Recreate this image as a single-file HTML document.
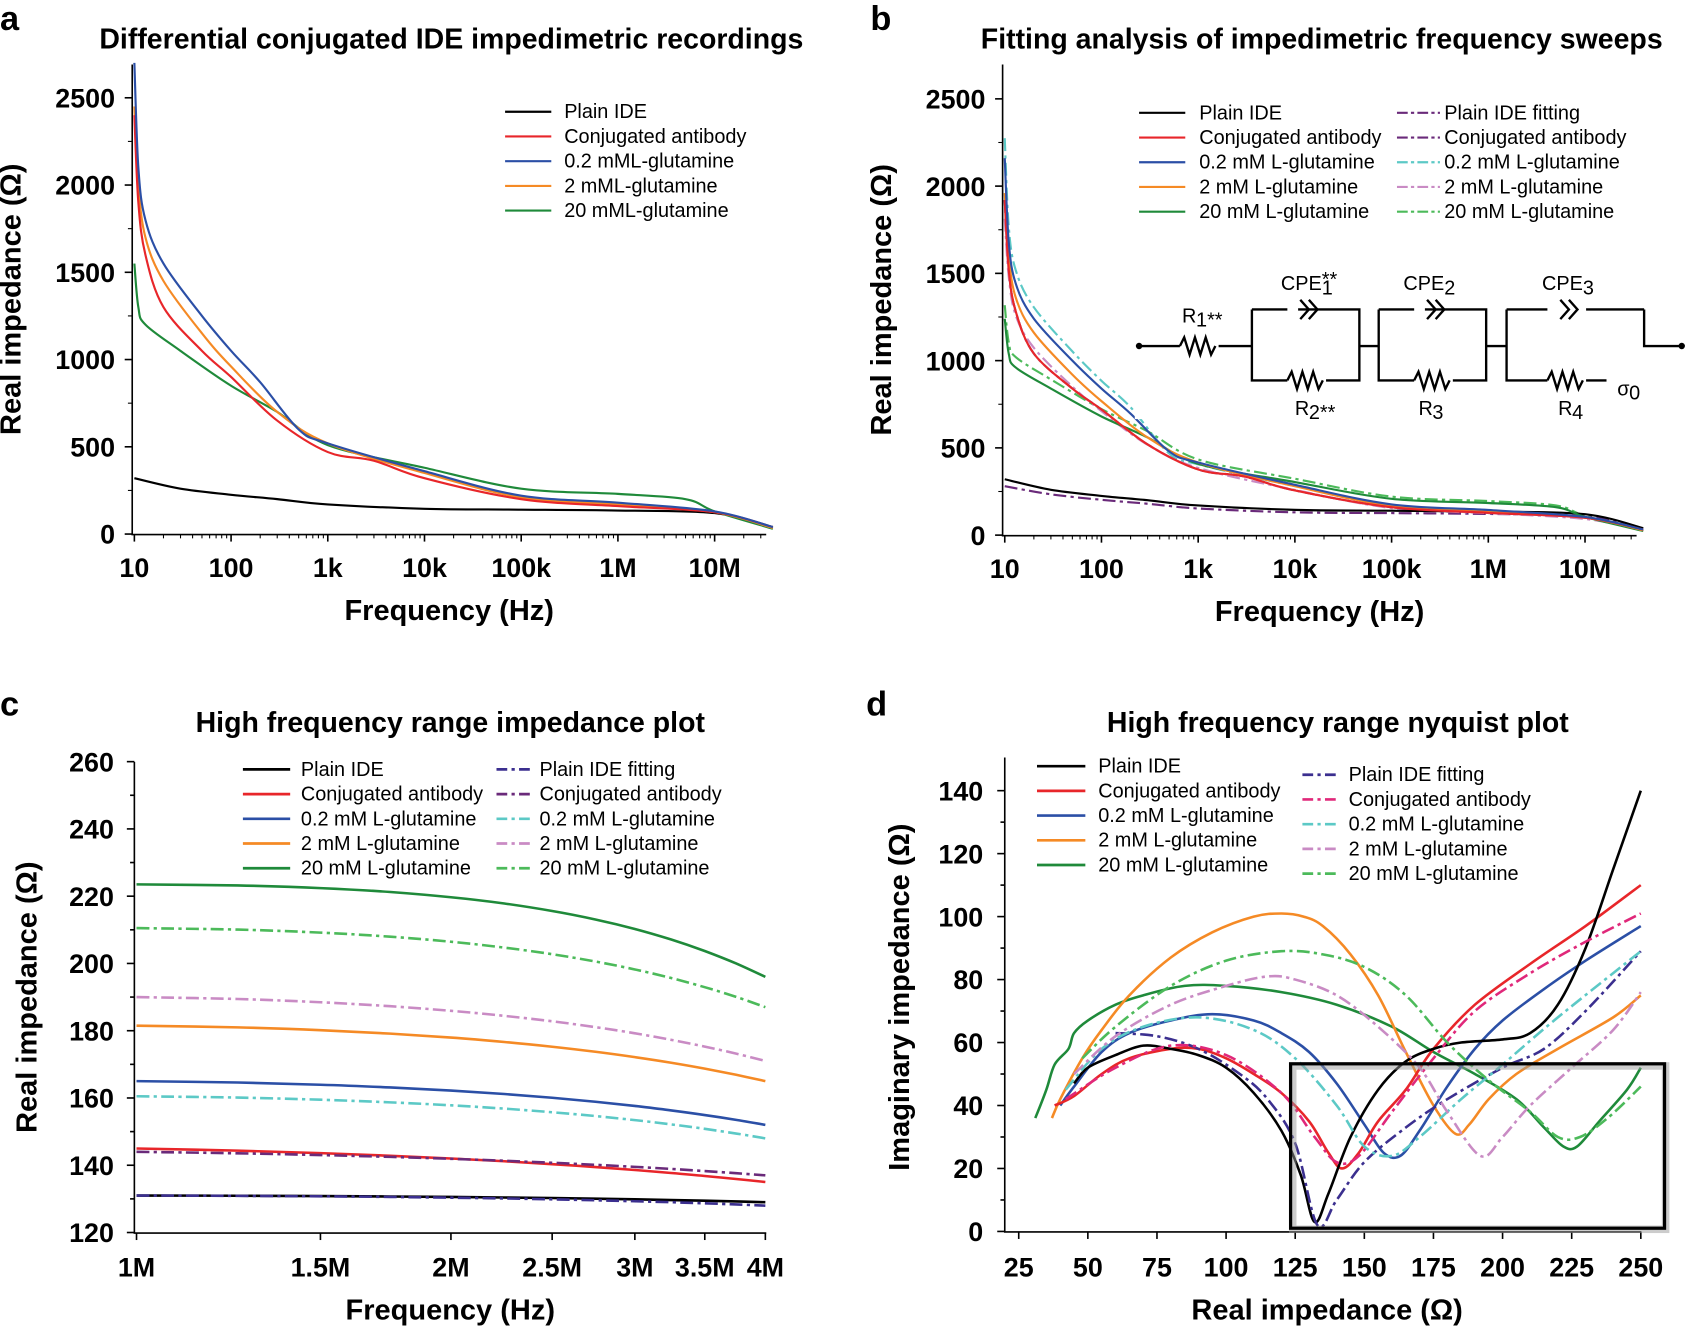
<!DOCTYPE html>
<html><head><meta charset="utf-8"><style>
html,body{margin:0;padding:0;background:#fff;}
svg{display:block;font-family:"Liberation Sans",Arial,sans-serif;}
.t{font-weight:bold;font-size:26.5px;}
.tk{font-weight:bold;font-size:25px;}
.lab{font-weight:bold;font-size:27px;}
.lg{font-size:18.5px;}
.pl{font-weight:bold;font-size:32px;}
</style></head><body>
<svg id="s" width="1685" height="1326" viewBox="0 0 1568 1234" xmlns="http://www.w3.org/2000/svg">
<rect width="1568" height="1234" fill="#fff"/>
<g id="g"></g>
</svg>
<script>
const NS="http://www.w3.org/2000/svg",G=document.getElementById('g');
function el(t,a,txt){const e=document.createElementNS(NS,t);for(const k in a)e.setAttribute(k,a[k]);if(txt!==undefined)e.textContent=txt;G.appendChild(e);return e;}
function smooth(p){let d="M"+p[0][0].toFixed(1)+","+p[0][1].toFixed(1);for(let i=0;i<p.length-1;i++){const p0=p[i-1]||p[i],p1=p[i],p2=p[i+1],p3=p[i+2]||p2;
const c1=[p1[0]+(p2[0]-p0[0])/6,p1[1]+(p2[1]-p0[1])/6],c2=[p2[0]-(p3[0]-p1[0])/6,p2[1]-(p3[1]-p1[1])/6];
d+=" C"+c1.map(v=>v.toFixed(1))+" "+c2.map(v=>v.toFixed(1))+" "+p2.map(v=>v.toFixed(1));}return d;}
function curve(pts,fx,fy,col,dash,w){el('path',{d:smooth(pts.map(q=>[fx(q[0]),fy(q[1])])),fill:'none',stroke:col,'stroke-width':w||2,'stroke-dasharray':dash?'12,4,3,4':'none'});}
const C={k:'#000',r:'#e8262a',b:'#2b4fa6',o:'#f58a25',g:'#1f8a3a',cy:'#5cc9c6',li:'#c98bc4',gd:'#4cba5a',pu:'#6a2a7a',pb:'#3b2f8f',rp:'#e0287a'};
function axes(x0,x1,y0,y1){el('path',{d:`M${x0},${y0} V${y1} H${x1}`,fill:'none',stroke:'#000','stroke-width':1.5});}
function text(x,y,s,cls,anchor,extra){const a=Object.assign({x:x,y:y,class:cls,'text-anchor':anchor||'start'},extra||{});return el('text',a,s);}
const dataA={
k:[[10,320],[30,260],[100,225],[300,200],[1e3,170],[1e4,145],[1e5,140],[1e6,135],[1e7,120],[4e7,40]],
r:[[10,2400],[11,1900],[13,1600],[20,1300],[50,1050],[100,900],[300,650],[1e3,470],[3e3,420],[1e4,320],[1e5,200],[1e6,160],[1e7,125],[4e7,40]],
b:[[10,2700],[11,2100],[13,1800],[20,1550],[50,1250],[100,1050],[200,870],[500,600],[1e3,520],[1e4,360],[1e5,220],[1e6,180],[1e7,130],[4e7,40]],
o:[[10,2450],[11,2000],[13,1700],[20,1450],[50,1150],[100,960],[300,700],[1e3,520],[1e4,350],[1e5,210],[1e6,170],[1e7,125],[4e7,35]],
g:[[10,1550],[11,1300],[13,1200],[30,1050],[100,850],[300,700],[1e3,510],[1e4,380],[1e5,260],[1e6,230],[5e6,200],[1e7,130],[4e7,30]]};
function panelAB(ox,y0,title,letter){
 const fx=f=>ox+2+90*Math.log10(f/10), fy=v=>y0-v*0.1624;
 axes(ox,ox+590,60,y0+0.5);
 ['10','100','1k','10k','100k','1M','10M'].forEach((s,i)=>{const x=ox+2+90*i;el('line',{x1:x,x2:x,y1:y0,y2:y0+7,stroke:'#000','stroke-width':1.5});text(x,y0+40,s,'tk','middle');
  for(let m=2;m<10;m++){const xm=x+90*Math.log10(m);if(xm<ox+590)el('line',{x1:xm,x2:xm,y1:y0,y2:y0+4,stroke:'#000'});}});
 [0,500,1000,1500,2000,2500].forEach(v=>{const y=fy(v);el('line',{x1:ox,x2:ox-7,y1:y,y2:y,stroke:'#000','stroke-width':1.5});text(ox-16,y+9,String(v),'tk','end');
  const ym=fy(v+250);if(v<2500)el('line',{x1:ox,x2:ox-4,y1:ym,y2:ym,stroke:'#000'});});
 text(ox+295,y0+80,'Frequency (Hz)','lab','middle');
 const yc=(60+y0)/2;text(0,0,'Real impedance (Ω)','lab','middle',{transform:`translate(${ox-104},${yc}) rotate(-90)`});
 text(ox+297,45,title,'t','middle');text(ox-123,28,letter,'pl');
 return [fx,fy];
}
let [fx,fy]=panelAB(123,497,'Differential conjugated IDE impedimetric recordings','a');
['k','g','o','r','b'].forEach(k=>curve(dataA[k],fx,fy,C[k]));
[['Plain IDE','k'],['Conjugated antibody','r'],['0.2 mML-glutamine','b'],['2 mML-glutamine','o'],['20 mML-glutamine','g']].forEach((l,i)=>{const y=104+i*23;el('line',{x1:470,x2:513,y1:y,y2:y,stroke:C[l[1]],'stroke-width':2});text(525,y+6,l[0],'lg');});
[fx,fy]=panelAB(933,498,'Fitting analysis of impedimetric frequency sweeps','b');
const sh=(arr,s)=>arr.map(p=>[p[0],p[1]*s]);
curve(sh(dataA.k,0.9).map((p,i)=>i==0?[10,280]:p),fx,fy,C.pu,true);
curve(sh(dataA.r,0.8),fx,fy,C.pu,true);
curve(sh(dataA.b,0.78).map(p=>[p[0],p[1]*(p[0]<300?1.08:1)]),fx,fy,C.cy,true);
curve(sh(dataA.o,0.74),fx,fy,C.li,true);
curve(sh(dataA.g,0.85),fx,fy,C.gd,true);
['k','g','o','r','b'].forEach(k=>curve(k=='k'?dataA.k:sh(dataA[k],0.8),fx,fy,C[k]));
el('rect',{x:1056,y:240,width:490,height:150,fill:'#fff'});
[['Plain IDE','k'],['Conjugated antibody','r'],['0.2 mM L-glutamine','b'],['2 mM L-glutamine','o'],['20 mM L-glutamine','g']].forEach((l,i)=>{const y=105+i*23;el('line',{x1:1060,x2:1103,y1:y,y2:y,stroke:C[l[1]],'stroke-width':2});text(1116,y+6,l[0],'lg');});
[['Plain IDE fitting','pu'],['Conjugated antibody','pu'],['0.2 mM L-glutamine','cy'],['2 mM L-glutamine','li'],['20 mM L-glutamine','gd']].forEach((l,i)=>{const y=105+i*23;el('line',{x1:1300,x2:1340,y1:y,y2:y,stroke:C[l[1]],'stroke-width':2,'stroke-dasharray':'10,3,3,3'});text(1344,y+6,l[0],'lg');});
const cw={fill:'none',stroke:'#000','stroke-width':2.2};
function res(x,y){el('path',Object.assign({d:`M${x},${y} l4,-8 l5,16 l5,-16 l5,16 l5,-16 l5,16 l4,-8`},cw));}
function cpe(x,y){el('path',Object.assign({d:`M${x-4},${y-9} l8,9 l-8,9 M${x+4},${y-9} l8,9 l-8,9`},cw));}
el('path',Object.assign({d:'M1060,322 H1098 M1134,322 H1165 M1165,288 V354 H1198 M1234,354 H1265 V288 H1234 M1198,288 H1165 M1265,322 H1283 M1283,288 V354 H1316 M1352,354 H1383 V288 H1352 M1316,288 H1283 M1383,322 H1402 M1402,288 V354 H1440 M1476,354 H1495 M1530,288 V322 H1565 M1440,288 H1402 M1476,288 H1530 M1208,288 H1234 M1326,288 H1352'},cw));
res(1098,322);res(1198,354);res(1316,354);res(1440,354);
cpe(1214,288);cpe(1332,288);cpe(1456,288);
el('circle',{cx:1060,cy:322,r:3});el('circle',{cx:1565,cy:322,r:3});
text(1100,300,'R','lg');text(1113,304,'1**','lg',null,{'font-size':9});
text(1192,270,'CPE','lg');text(1230,266,'**','lg',null,{'font-size':9});text(1230,274,'1','lg',null,{'font-size':11});
text(1306,270,'CPE','lg');text(1344,274,'2','lg',null,{'font-size':11});
text(1435,270,'CPE','lg');text(1473,274,'3','lg',null,{'font-size':11});
text(1205,386,'R','lg');text(1218,390,'2**','lg',null,{'font-size':9});
text(1320,386,'R','lg');text(1333,390,'3','lg',null,{'font-size':11});
text(1450,386,'R','lg');text(1463,390,'4','lg',null,{'font-size':11});
text(1505,368,'σ','lg');text(1516,372,'0','lg',null,{'font-size':11});
{const fx=f=>127+972*Math.log10(f),fy=v=>1147-(v-120)*3.13;
axes(125,713,709,1147.5);
[['1M',1],['1.5M',1.5],['2M',2],['2.5M',2.5],['3M',3],['3.5M',3.5],['4M',4]].forEach(t=>{const x=fx(t[1]);el('line',{x1:x,x2:x,y1:1147,y2:1154,stroke:'#000','stroke-width':1.5});text(x,1188,t[0],'tk','middle');});
for(let v=120;v<=260;v+=10){const y=fy(v);el('line',{x1:125,x2:v%20?121:118,y1:y,y2:y,stroke:'#000','stroke-width':1.5});if(v%20==0)text(106,y+9,String(v),'tk','end');}
text(419,1228,'Frequency (Hz)','lab','middle');
text(0,0,'Real impedance (Ω)','lab','middle',{transform:`translate(34,928) rotate(-90)`});
text(419,681,'High frequency range impedance plot','t','middle');text(0,666,'c','pl');
function ln(a,b,col,d,p){const pts=[];for(let i=0;i<=12;i++){const t=i/12;const f=1+3*t;pts.push([f,a-(a-b)*Math.pow(t,p||1.4)]);}curve(pts,fx,fy,col,d,2.4);}
ln(131,129,C.k);ln(131,128,C.pb,true);ln(145,135,C.r,false,1.1);ln(144,137,C.pu,true,1.1);
ln(165,152,C.b);ln(160.5,148,C.cy,true);ln(181.5,165,C.o);ln(190,171,C.li,true);ln(223.5,196,C.g,false,1.8);ln(210.5,187,C.gd,true,1.6);
[['Plain IDE','k'],['Conjugated antibody','r'],['0.2 mM L-glutamine','b'],['2 mM L-glutamine','o'],['20 mM L-glutamine','g']].forEach((l,i)=>{const y=716+i*23;el('line',{x1:226,x2:270,y1:y,y2:y,stroke:C[l[1]],'stroke-width':2.5});text(280,y+6,l[0],'lg');});
[['Plain IDE fitting','pb'],['Conjugated antibody','pu'],['0.2 mM L-glutamine','cy'],['2 mM L-glutamine','li'],['20 mM L-glutamine','gd']].forEach((l,i)=>{const y=716+i*23;el('line',{x1:462,x2:494,y1:y,y2:y,stroke:C[l[1]],'stroke-width':2.5,'stroke-dasharray':'10,4,3,4'});text(502,y+6,l[0],'lg');});
}
{const fx=v=>948+(v-25)*2.573,fy=v=>1146-v*2.93;
axes(935,1527,705,1146.5);
for(let v=25;v<=250;v+=25){const x=fx(v);el('line',{x1:x,x2:x,y1:1146,y2:1153,stroke:'#000','stroke-width':1.5});text(x,1188,String(v),'tk','middle');}
for(let v=0;v<=140;v+=10){const y=fy(v);el('line',{x1:935,x2:v%20?931:928,y1:y,y2:y,stroke:'#000','stroke-width':1.5});if(v%20==0)text(915,y+9,String(v),'tk','end');}
text(1235,1228,'Real impedance (Ω)','lab','middle');
text(0,0,'Imaginary impedance (Ω)','lab','middle',{transform:`translate(846,928) rotate(-90)`});
text(1245,681,'High frequency range nyquist plot','t','middle');text(806,666,'d','pl');
const D={
k:[[45,47],[50,52],[60,56],[70,59],[80,58],[90,56],[100,52],[110,44],[120,32],[127,18],[132,3],[137,12],[145,30],[155,45],[165,54],[175,58],[185,60],[200,61],[210,63],[220,72],[230,90],[240,115],[250,140]],
r:[[38,40],[45,43],[55,50],[65,55],[80,58],[90,58],[100,55],[110,50],[120,44],[130,35],[137,25],[142,20],[148,25],[155,35],[165,45],[175,58],[190,72],[210,85],[230,97],[250,110]],
b:[[40,40],[45,46],[55,57],[65,63],[80,67],[95,69],[110,67],[120,63],[130,57],[140,47],[150,34],[157,25],[163,24],[170,32],[180,46],[190,58],[200,67],[215,77],[230,86],[250,97]],
o:[[37,36],[40,42],[48,55],[55,64],[65,75],[80,87],[95,95],[110,100],[120,101],[128,100],[135,97],[145,88],[155,75],[165,57],[175,40],[183,31],[188,34],[195,42],[205,50],[220,58],[240,68],[250,75]],
g:[[31,36],[35,45],[38,53],[43,58],[45,63],[50,67],[60,72],[70,75],[85,78],[100,78],[120,76],[140,72],[160,65],[175,57],[190,50],[205,42],[215,33],[222,27],[227,27],[235,35],[245,45],[250,52]]};
const DD=[
[[[60,63],[75,62],[90,58],[105,50],[115,42],[125,28],[133,2],[140,10],[150,22],[165,33],[180,42],[200,52],[215,58],[230,70],[250,89]],C.pb],
[[[42,42],[60,52],[80,59],[100,56],[120,44],[132,30],[140,22],[148,24],[160,38],[175,55],[190,70],[210,82],[230,92],[250,101]],C.rp],
[[[42,45],[55,58],[70,65],[90,68],[110,64],[125,55],[140,40],[150,27],[160,24],[170,30],[185,42],[200,53],[220,68],[250,89]],C.cy],
[[[45,50],[60,62],[80,72],[100,78],[115,81],[125,80],[140,75],[155,65],[170,52],[180,38],[192,24],[200,30],[210,40],[225,52],[240,64],[250,76]],C.li],
[[[48,55],[60,65],[80,78],[100,86],[120,89],[135,88],[150,84],[165,75],[180,60],[195,48],[210,38],[220,30],[228,30],[238,36],[250,46]],C.gd]];
['g','o','b','r','k'].forEach(k=>curve(D[k],fx,fy,C[k],false,2.4));
DD.forEach(d=>curve(d[0],fx,fy,d[1],true,2.4));
el('rect',{x:1203,y:992,width:347,height:152,fill:'none',stroke:'#999','stroke-width':7,opacity:0.5});
el('rect',{x:1201,y:990,width:348,height:153,fill:'none',stroke:'#000','stroke-width':3});
[['Plain IDE','k'],['Conjugated antibody','r'],['0.2 mM L-glutamine','b'],['2 mM L-glutamine','o'],['20 mM L-glutamine','g']].forEach((l,i)=>{const y=713+i*23;el('line',{x1:965,x2:1010,y1:y,y2:y,stroke:C[l[1]],'stroke-width':2.5});text(1022,y+6,l[0],'lg');});
[['Plain IDE fitting','pb'],['Conjugated antibody','rp'],['0.2 mM L-glutamine','cy'],['2 mM L-glutamine','li'],['20 mM L-glutamine','gd']].forEach((l,i)=>{const y=721+i*23;el('line',{x1:1212,x2:1246,y1:y,y2:y,stroke:C[l[1]],'stroke-width':2.5,'stroke-dasharray':'10,4,3,4'});text(1255,y+6,l[0],'lg');});
}
</script>
</body></html>
